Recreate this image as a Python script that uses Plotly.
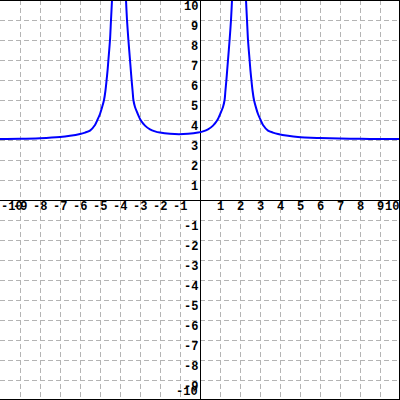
import plotly.graph_objects as go

# Curve readings (three branches separated by vertical asymptotes near x=-4 and x=2)
left_x = [-10, -9, -8, -7, -6.5, -6, -5.75, -5.5, -5.25, -5.13, -5.0, -4.9, -4.8, -4.73, -4.67, -4.62, -4.58, -4.5, -4.45, -4.4, -4.36]
left_y = [3.05, 3.06, 3.09, 3.15, 3.21, 3.3, 3.37, 3.47, 3.75, 4.0, 4.3, 4.62, 5.0, 5.45, 6.0, 6.5, 7.0, 8.0, 9.0, 10.0, 11.0]

mid_x = [-3.74, -3.7, -3.65, -3.58, -3.5, -3.46, -3.42, -3.37, -3.33, -3.25, -3.15, -2.97, -2.75, -2.5, -2.25, -2.0, -1.5, -1.05,
         -0.6, -0.1, 0.15, 0.4, 0.65, 0.87, 1.05, 1.15, 1.23, 1.27, 1.32, 1.36, 1.4, 1.48, 1.55, 1.6, 1.64]
mid_y = [11, 10, 9, 8, 7, 6.5, 6, 5.45, 5, 4.65, 4.4, 4.0, 3.72, 3.53, 3.43, 3.37, 3.31, 3.29,
         3.31, 3.37, 3.43, 3.53, 3.72, 4.0, 4.4, 4.65, 5, 5.45, 6, 6.5, 7, 8, 9, 10, 11]

right_x = [2.26, 2.3, 2.35, 2.4, 2.48, 2.52, 2.57, 2.63, 2.7, 2.8, 2.9, 3.03, 3.15, 3.4, 3.65, 3.9, 4.4, 4.9, 6, 7, 8, 9, 10]
right_y = [11, 10, 9, 8, 7, 6.5, 6, 5.45, 5, 4.62, 4.3, 4.0, 3.75, 3.47, 3.37, 3.3, 3.21, 3.15, 3.1, 3.07, 3.06, 3.05, 3.05]

x_ticks = [-10, -9, -8, -7, -6, -5, -4, -3, -2, -1, 1, 2, 3, 4, 5, 6, 7, 8, 9, 10]
y_ticks = [-10, -9, -8, -7, -6, -5, -4, -3, -2, -1, 1, 2, 3, 4, 5, 6, 7, 8, 9, 10]

fig = go.Figure()
for bx, by in [(left_x, left_y), (mid_x, mid_y), (right_x, right_y)]:
    fig.add_trace(go.Scatter(x=bx, y=by, mode="lines",
                             line=dict(color="#0000ff", width=2, shape="spline", smoothing=0.8),
                             hoverinfo="skip", showlegend=False))

font = dict(family="Liberation Mono", size=12, color="black", weight="bold")
ann = []
for v in x_ticks:
    xa = "center"
    if v == x_ticks[0]:
        xa = "left"
    elif v == x_ticks[-1]:
        xa = "right"
    ann.append(dict(x=v, y=0, xref="x", yref="y", text=str(v), showarrow=False,
                    xanchor=xa, yanchor="top", yshift=1, font=font, borderpad=0))
for v in y_ticks:
    ya = "top"
    if v == y_ticks[0]:
        ya = "bottom"
    ann.append(dict(x=0, y=v, xref="x", yref="y", text=str(v), showarrow=False,
                    xanchor="right", yanchor=ya, xshift=-1, yshift=1 if ya == "top" else 0,
                    font=font, borderpad=0))

axis_common = dict(range=[-10, 10], dtick=1, tick0=0, showticklabels=False, ticks="",
                   showgrid=True, gridcolor="#b4b4b4", griddash="5px,3px", gridwidth=1,
                   zeroline=True, zerolinecolor="black", zerolinewidth=1, showline=False,
                   fixedrange=True)

fig.update_layout(
    width=400, height=400,
    margin=dict(l=0, r=0, t=0, b=0),
    paper_bgcolor="white", plot_bgcolor="white",
    xaxis=axis_common, yaxis=axis_common,
    annotations=ann,
    shapes=[
        dict(type="line", xref="paper", yref="paper", x0=0, x1=1, y0=1, y1=1, line=dict(color="black", width=2)),
        dict(type="line", xref="paper", yref="paper", x0=1, x1=1, y0=0, y1=1, line=dict(color="black", width=2)),
        dict(type="line", xref="paper", yref="paper", x0=0, x1=1, y0=0, y1=0, line=dict(color="black", width=2)),
    ],
)

fig.write_html("out.html", config={"displayModeBar": False},
               post_script="document.body.style.margin='0';document.body.style.overflow='hidden';")
